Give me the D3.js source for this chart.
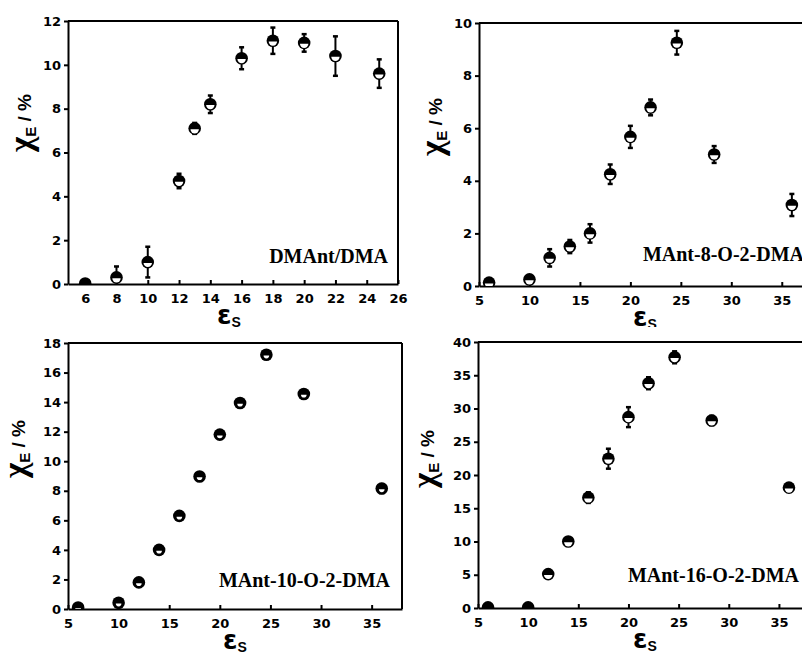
<!DOCTYPE html>
<html>
<head>
<meta charset="utf-8">
<script src="https://cdn.jsdelivr.net/npm/d3@7"></script>
<style>
  body { margin: 0; background: #fff; }
  svg { display: block; }
</style>
</head>
<body>
<div id="chart"></div>
<script>
// ---- data ----
const epsDMAnt = [6, 8, 10, 12, 13, 14, 16, 18, 20, 22, 24.8];
const chiDMAnt = [0.02, 0.3, 1.0, 4.7, 7.1, 8.2, 10.3, 11.1, 11.0, 10.4, 9.6];
const errDMAnt = [0, 0.5, 0.7, 0.33, 0.25, 0.4, 0.5, 0.6, 0.4, 0.9, 0.65];

const epsSolv = [6, 10, 12, 14, 16, 18, 20, 22, 24.6, 28.3, 36];
const chi8 = [0.13, 0.25, 1.07, 1.5, 2.0, 4.25, 5.67, 6.79, 9.25, 5.0, 3.08];
const err8 = [0, 0, 0.33, 0.25, 0.35, 0.37, 0.42, 0.3, 0.45, 0.32, 0.42];
const chi10 = [0.1, 0.42, 1.8, 4.0, 6.3, 8.97, 11.8, 13.94, 17.2, 14.55, 8.15];
const err10 = [0, 0, 0.15, 0.15, 0.15, 0.2, 0.2, 0.2, 0.2, 0.2, 0.3];
const chi16 = [0.1, 0.1, 5.1, 10.0, 16.6, 22.45, 28.7, 33.8, 37.7, 28.2, 18.1];
const err16 = [0, 0, 0.5, 0.6, 0.8, 1.5, 1.5, 0.9, 0.9, 0.7, 0.5];

const xTicksA = [6, 8, 10, 12, 14, 16, 18, 20, 22, 24, 26];
const xTicksB = [5, 10, 15, 20, 25, 30, 35];
const yTicks12 = [0, 2, 4, 6, 8, 10, 12];
const yTicks10 = [0, 2, 4, 6, 8, 10];
const yTicks18 = [0, 2, 4, 6, 8, 10, 12, 14, 16, 18];
const yTicks40 = [0, 5, 10, 15, 20, 25, 30, 35, 40];

const names = ["DMAnt/DMA", "MAnt-8-O-2-DMA", "MAnt-10-O-2-DMA", "MAnt-16-O-2-DMA"];

// ---- layout (pixel boxes of each panel) ----
const W = 802, H = 654;
const panels = [
  { name: names[0], xs: epsDMAnt, ys: chiDMAnt, es: errDMAnt, xd: [4.9, 26], yd: [0, 12],
    xt: xTicksA, yt: yTicks12, box: [68, 21, 398, 284], rightSpine: true,
    clip: [0, 0, 430, 329], labEnd: 388, labBase: 263, ylx: 36, yly: 131, xlc: 229, hole: 4.2 },
  { name: names[1], xs: epsSolv, ys: chi8, es: err8, xd: [5, 37.5], yd: [0, 10],
    xt: xTicksB, yt: yTicks10, box: [479, 23, 807, 286], rightSpine: false,
    clip: [401, 0, 401, 327], labEnd: 804, labBase: 261, ylx: 36, yly: 133, xlc: 645, hole: 4.2 },
  { name: names[2], xs: epsSolv, ys: chi10, es: err10, xd: [5, 38], yd: [0, 18],
    xt: xTicksB, yt: yTicks18, box: [68, 343, 402, 609], rightSpine: true,
    clip: [0, 327, 410, 327], labEnd: 390, labBase: 587, ylx: 42, yly: 135, xlc: 235, hole: 2.8 },
  { name: names[3], xs: epsSolv, ys: chi16, es: err16, xd: [5, 37.5], yd: [0, 40],
    xt: xTicksB, yt: yTicks40, box: [478, 342, 804, 608], rightSpine: false,
    clip: [401, 327, 401, 327], labEnd: 799, labBase: 582, ylx: 43, yly: 146, xlc: 645, hole: 4.2 }
];

const svg = d3.select("#chart").append("svg")
  .attr("width", W).attr("height", H)
  .style("background", "#fff");
const defs = svg.append("defs");

const tickFont = "bold 13px 'DejaVu Sans', sans-serif";

panels.forEach((p, i) => {
  const [L, T, R, B] = p.box;
  const x = d3.scaleLinear().domain(p.xd).range([L, R]);
  const y = d3.scaleLinear().domain(p.yd).range([B, T]);

  defs.append("clipPath").attr("id", "q" + i)
    .append("rect").attr("x", p.clip[0]).attr("y", p.clip[1])
    .attr("width", p.clip[2]).attr("height", p.clip[3]);
  defs.append("clipPath").attr("id", "plot" + i)
    .append("rect").attr("x", L).attr("y", T - 10)
    .attr("width", R - L).attr("height", B - T + 10);

  const g = svg.append("g").attr("clip-path", `url(#q${i})`);

  // frame: top line + optional right spine
  g.append("line").attr("x1", L).attr("x2", R).attr("y1", T).attr("y2", T)
    .attr("stroke", "#000").attr("stroke-width", 2);
  if (p.rightSpine) {
    g.append("line").attr("x1", R).attr("x2", R).attr("y1", T).attr("y2", B)
      .attr("stroke", "#000").attr("stroke-width", 2);
  }

  // axes
  const ya = g.append("g").attr("transform", `translate(${L},0)`)
    .call(d3.axisLeft(y).tickValues(p.yt).tickSizeInner(4).tickSizeOuter(0).tickPadding(3));
  const xa = g.append("g").attr("transform", `translate(0,${B})`)
    .call(d3.axisBottom(x).tickValues(p.xt).tickSizeInner(-4).tickSizeOuter(0).tickPadding(10));
  [ya, xa].forEach(a => {
    a.select(".domain").attr("stroke-width", 2);
    a.selectAll(".tick line").attr("stroke-width", 2);
    a.selectAll(".tick text").style("font", tickFont).attr("fill", "#000");
  });

  // y label  χE / %
  const yl = g.append("text")
    .attr("transform", `translate(${L - p.ylx},${T + p.yly}) rotate(-90)`)
    .attr("text-anchor", "start").attr("fill", "#000");
  yl.append("tspan").text("χ")
    .style("font", "bold 33px 'Liberation Serif', serif");
  yl.append("tspan").text("E").attr("dy", 4)
    .style("font", "bold 15px 'Liberation Sans', sans-serif");
  yl.append("tspan").text(" / %").attr("dy", -5)
    .style("font", "bold 19px 'Liberation Sans', sans-serif");

  // x label  εS
  const xl = g.append("text")
    .attr("x", p.xlc).attr("y", B + 40)
    .attr("text-anchor", "middle").attr("fill", "#000");
  xl.append("tspan").text("ε")
    .style("font", "bold 26px 'DejaVu Sans', sans-serif");
  xl.append("tspan").text("S").attr("dy", 3)
    .style("font", "bold 14px 'Liberation Sans', sans-serif");

  // compound label
  g.append("text").attr("x", p.labEnd).attr("y", p.labBase)
    .attr("text-anchor", "end").attr("fill", "#000")
    .style("font", "bold 20px 'Liberation Serif', serif")
    .text(p.name);

  // points with error bars
  const pts = p.xs.map((v, k) => ({ x: v, y: p.ys[k], e: p.es[k] }));
  const pg = g.append("g").attr("clip-path", `url(#plot${i})`);
  const eb = pg.selectAll("g.eb").data(pts.filter(d => d.e > 0)).join("g").attr("class", "eb");
  eb.append("line")
    .attr("x1", d => x(d.x)).attr("x2", d => x(d.x))
    .attr("y1", d => y(d.y + d.e)).attr("y2", d => y(d.y - d.e))
    .attr("stroke", "#000").attr("stroke-width", 2);
  eb.selectAll("line.cap").data(d => [[d.x, d.y + d.e], [d.x, d.y - d.e]]).join("line")
    .attr("class", "cap")
    .attr("x1", d => x(d[0]) - 2.5).attr("x2", d => x(d[0]) + 2.5)
    .attr("y1", d => y(d[1])).attr("y2", d => y(d[1]))
    .attr("stroke", "#000").attr("stroke-width", 2.5);

  const mk = pg.selectAll("g.mk").data(pts).join("g").attr("class", "mk")
    .attr("transform", d => `translate(${x(d.x)},${y(d.y)})`);
  mk.append("circle").attr("r", 6.3).attr("fill", "#000");
  const h = p.hole;
  mk.append("path")
    .attr("d", `M${-h},0.8 A${h},${h} 0 0 0 ${h},0.8 Z`)
    .attr("fill", "#fff");
});
</script>
</body>
</html>
